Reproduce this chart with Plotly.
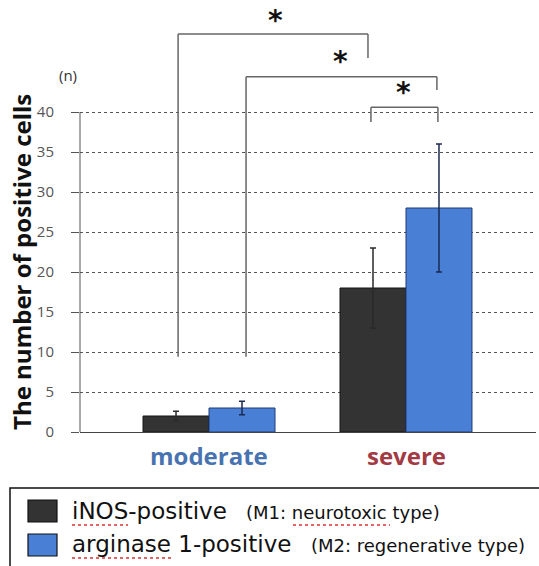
import plotly.graph_objects as go

# ---- data ----
categories = ["moderate", "severe"]
category_colors = ["#4873b0", "#a23a44"]
series_names = ["iNOS-positive", "arginase 1-positive"]
series_notes = ["(M1: neurotoxic type)", "(M2: regenerative type)"]
inos_mean = [2.0, 18.0]
inos_err = [0.6, 5.0]
arg_mean = [3.0, 28.0]
arg_err = [0.85, 8.0]
y_ticks = [0, 5, 10, 15, 20, 25, 30, 35, 40]

# significance brackets (data units)
bracket_x0 = [-0.157, 0.188, 0.822]
bracket_x1 = [0.807, 1.157, 1.162]
bracket_top = [49.75, 44.4, 40.6]
bracket_left_bottom = [9.4, 9.4, 38.75]
bracket_right_bottom = [46.75, 42.75, 38.75]
star_x = [0.335, 0.665, 0.985]
star_y = [51.5, 46.3, 42.5]

# ---- layout geometry ----
W, H = 539, 566
ML, MR, MT, MB = 80, 3, 0, 134
PW, PH = W - ML - MR, H - MT - MB


def px_x(px):
    return (px - ML) / PW


def px_y(py):
    return (H - MB - py) / PH


black = "#333333"
blue = "#4a7fd6"

xs = list(range(len(categories)))

fig = go.Figure()
fig.add_trace(go.Bar(
    x=xs, y=inos_mean, name=series_names[0],
    marker=dict(color=black, line=dict(color="#151515", width=1)),
    error_y=dict(type="data", array=inos_err, color="#2a2a2a", thickness=1.5, width=3),
))
fig.add_trace(go.Bar(
    x=xs, y=arg_mean, name=series_names[1],
    marker=dict(color=blue, line=dict(color="#1e3a78", width=1)),
    error_y=dict(type="data", array=arg_err, color="#1a2a50", thickness=1.5, width=3),
))

shapes = []
# y axis line (0..40)
shapes.append(dict(type="line", xref="paper", yref="y", x0=0, x1=0, y0=0, y1=max(y_ticks),
                   line=dict(color="#555555", width=1)))
# brackets
bc = "#666666"
for i in range(len(bracket_x0)):
    shapes.append(dict(type="line", xref="x", yref="y", x0=bracket_x0[i], x1=bracket_x0[i],
                       y0=bracket_left_bottom[i], y1=bracket_top[i], line=dict(color=bc, width=1.5)))
    shapes.append(dict(type="line", xref="x", yref="y", x0=bracket_x0[i], x1=bracket_x1[i],
                       y0=bracket_top[i], y1=bracket_top[i], line=dict(color=bc, width=1.5)))
    shapes.append(dict(type="line", xref="x", yref="y", x0=bracket_x1[i], x1=bracket_x1[i],
                       y0=bracket_right_bottom[i], y1=bracket_top[i], line=dict(color=bc, width=1.5)))

# legend box
shapes.append(dict(type="rect", xref="paper", yref="paper", x0=px_x(10), x1=px_x(560),
                   y0=px_y(600), y1=px_y(488), line=dict(color="#111111", width=1.5)))
# legend swatches
sw_colors = [black, blue]
sw_top = [500, 534]
for i in range(2):
    shapes.append(dict(type="rect", xref="paper", yref="paper", x0=px_x(28), x1=px_x(57),
                       y0=px_y(sw_top[i] + 22), y1=px_y(sw_top[i]), fillcolor=sw_colors[i],
                       line=dict(color="#111111", width=1.2)))
# spell-check squiggles
squig = [(72, 128, 525), (293, 390, 525), (72, 171, 558)]
for x0, x1, yy in squig:
    shapes.append(dict(type="line", xref="paper", yref="paper", x0=px_x(x0), x1=px_x(x1),
                       y0=px_y(yy), y1=px_y(yy), line=dict(color="#e03030", width=1.5, dash="dot")))

annotations = []
for i in range(len(star_x)):
    annotations.append(dict(x=star_x[i], y=star_y[i], xref="x", yref="y", text="<b>*</b>",
                            showarrow=False, font=dict(family="DejaVu Sans", size=28, color="#111111"),
                            xanchor="center", yanchor="middle"))
for i, c in enumerate(categories):
    annotations.append(dict(x=xs[i], y=px_y(455), xref="x", yref="paper", text=f"<b>{c}</b>",
                            showarrow=False, xanchor="center", yanchor="middle",
                            font=dict(family="Open Sans", size=24, color=category_colors[i])))
annotations.append(dict(x=px_x(22), y=px_y(262), xref="paper", yref="paper",
                        text="<b>The number of positive cells</b>", textangle=-90, showarrow=False,
                        xanchor="center", yanchor="middle",
                        font=dict(family="Open Sans", size=24, color="#111111")))
annotations.append(dict(x=px_x(68), y=px_y(75), xref="paper", yref="paper", text="(n)",
                        showarrow=False, xanchor="center", yanchor="middle",
                        font=dict(family="Open Sans", size=15, color="#333333")))
row_y = [511, 544]
for i in range(2):
    annotations.append(dict(x=px_x(70), y=px_y(row_y[i]), xref="paper", yref="paper",
                            text=series_names[i], showarrow=False, xanchor="left", yanchor="middle",
                            font=dict(family="DejaVu Sans", size=23, color="#111111")))
note_right = [442, 527]
for i in range(2):
    annotations.append(dict(x=px_x(note_right[i]), y=px_y(row_y[i] + 1), xref="paper", yref="paper",
                            text=series_notes[i], showarrow=False, xanchor="right", yanchor="middle",
                            font=dict(family="DejaVu Sans", size=18, color="#111111")))

fig.update_layout(
    width=W, height=H,
    margin=dict(l=ML, r=MR, t=MT, b=MB),
    paper_bgcolor="white", plot_bgcolor="white",
    barmode="group", bargap=0.33, bargroupgap=0,
    showlegend=False,
    shapes=shapes, annotations=annotations,
    xaxis=dict(range=[-0.655, 1.66], showticklabels=False, ticks="", showgrid=False,
               zeroline=False, showline=True, linecolor="#444444", linewidth=1.2, fixedrange=True),
    yaxis=dict(range=[0, 54], tickvals=y_ticks, ticks="outside", ticklen=8, tickcolor="#555555",
               tickwidth=1, showgrid=True, gridcolor="#555555", griddash="dot", gridwidth=1.2,
               zeroline=False, showline=False, ticklabelstandoff=14, fixedrange=True,
               tickfont=dict(family="Open Sans", size=15, color="#555555")),
)

fig.write_html("out.html", config={"displayModeBar": False},
               post_script="document.body.style.margin='0';")
